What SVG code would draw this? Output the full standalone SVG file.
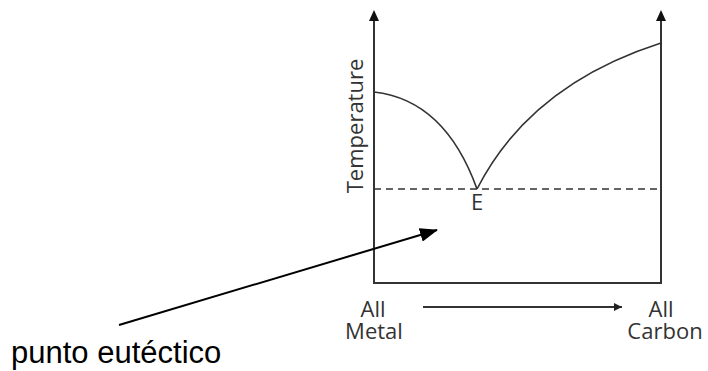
<svg xmlns="http://www.w3.org/2000/svg" width="708" height="371" viewBox="0 0 708 371">
<style>
.ax{stroke:#333;stroke-width:2;fill:none}
.cv{stroke:#333;stroke-width:1.6;fill:none}
.lbl{font-family:"Open Sans","DejaVu Sans",sans-serif;font-size:22px;fill:#333;text-anchor:middle}
.big{font-family:"Liberation Sans",Arial,sans-serif;font-size:31px;fill:#000}
</style>
<defs>
<marker id="ah2" markerWidth="8" markerHeight="8" refX="8" refY="4" orient="auto" markerUnits="userSpaceOnUse"><path d="M0,0 L8,4 L0,8 Z" fill="#222"/></marker>
<marker id="ah3" markerWidth="18" markerHeight="14" refX="17" refY="7" orient="auto" markerUnits="userSpaceOnUse"><path d="M0,0 L18,7 L0,14 Z" fill="#000"/></marker>
</defs>
<g id="axes">
<path class="ax" d="M374,12 V283 H661 V12" />
<path d="M369,21 L374,10 L379,21 Z" fill="#111"/>
<path d="M656,21 L661,10 L666,21 Z" fill="#111"/>
</g>
<g id="curves">
<path class="cv" d="M374,92 Q445,100 477,189"/>
<path class="cv" d="M477,189 Q530,85 661,43"/>
<path class="cv" d="M374,189 H661" stroke-dasharray="7,5"/>
</g>
<g id="labels">
<text class="lbl" x="477" y="210">E</text>
<text class="lbl" transform="translate(363,126) rotate(-90)">Temperature</text>
<text id="all-metal" class="lbl"><tspan x="373" y="317">All</tspan><tspan x="374" y="339">Metal</tspan></text>
<text id="all-carbon" class="lbl"><tspan x="661" y="317">All</tspan><tspan x="665" y="339">Carbon</tspan></text>
</g>
<g id="connectors">
<line x1="423" y1="307" x2="622" y2="307" stroke="#333" stroke-width="2" marker-end="url(#ah2)"/>
<line x1="119" y1="325" x2="437" y2="230" stroke="#000" stroke-width="2" marker-end="url(#ah3)"/>
</g>
<g id="note">
<text class="big" x="11" y="363">punto eutéctico</text>
</g>
</svg>
